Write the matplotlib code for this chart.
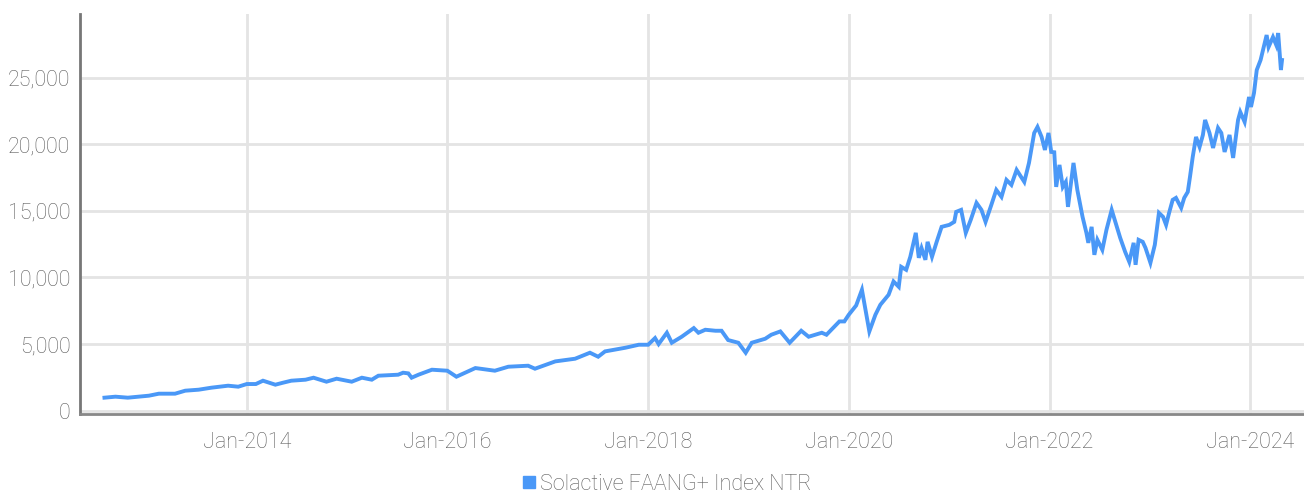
import matplotlib
matplotlib.use("Agg")
import matplotlib.pyplot as plt
import matplotlib.dates as mdates
from matplotlib.lines import Line2D
from matplotlib.ticker import FuncFormatter
import numpy as np

# Solactive FAANG+ Index NTR, index level over time
dates = [
    "2012-08-01", "2012-09-10", "2012-10-25", "2013-01-10", "2013-02-15",
    "2013-04-15", "2013-05-22", "2013-07-10", "2013-08-25", "2013-10-25",
    "2013-12-01", "2014-01-01", "2014-02-03", "2014-03-01", "2014-04-15",
    "2014-05-13", "2014-06-12", "2014-08-03", "2014-09-01", "2014-10-18",
    "2014-11-24", "2015-01-18", "2015-02-24", "2015-04-01", "2015-04-25",
    "2015-07-06", "2015-07-24", "2015-08-12", "2015-08-24", "2015-09-18",
    "2015-11-06", "2016-01-01", "2016-02-03", "2016-04-12", "2016-06-22",
    "2016-08-10", "2016-10-21", "2016-11-15", "2017-01-28", "2017-04-10",
    "2017-06-03", "2017-07-03", "2017-07-28", "2017-10-10", "2017-11-28",
    "2018-01-01", "2018-01-26", "2018-02-08", "2018-03-10", "2018-03-28",
    "2018-05-03", "2018-06-16", "2018-07-03", "2018-07-28", "2018-09-03",
    "2018-09-25", "2018-10-19", "2018-11-25", "2018-12-22", "2019-01-13",
    "2019-03-03", "2019-03-25", "2019-04-27", "2019-05-31", "2019-07-12",
    "2019-08-08", "2019-09-25", "2019-10-12", "2019-11-28", "2019-12-16",
    "2020-01-01", "2020-01-28", "2020-02-18", "2020-03-16", "2020-04-07",
    "2020-04-25", "2020-05-25", "2020-06-12", "2020-07-01", "2020-07-10",
    "2020-07-28", "2020-08-12", "2020-09-01", "2020-09-12", "2020-09-22",
    "2020-10-06", "2020-10-14", "2020-10-30", "2020-11-16", "2020-12-04",
    "2021-01-01", "2021-01-19", "2021-01-26", "2021-02-13", "2021-03-02",
    "2021-03-20", "2021-04-10", "2021-04-28", "2021-05-13", "2021-06-03",
    "2021-06-21", "2021-07-10", "2021-07-28", "2021-08-15", "2021-09-03",
    "2021-10-01", "2021-10-18", "2021-11-06", "2021-11-18", "2021-12-03",
    "2021-12-15", "2021-12-28", "2022-01-07", "2022-01-18", "2022-01-25",
    "2022-02-06", "2022-02-18", "2022-03-01", "2022-03-09", "2022-03-29",
    "2022-04-12", "2022-05-01", "2022-05-15", "2022-05-22", "2022-06-03",
    "2022-06-13", "2022-06-24", "2022-07-12", "2022-07-27", "2022-08-15",
    "2022-09-03", "2022-09-15", "2022-10-03", "2022-10-18", "2022-11-03",
    "2022-11-10", "2022-11-21", "2022-12-06", "2022-12-16", "2023-01-03",
    "2023-01-19", "2023-02-03", "2023-02-18", "2023-03-01", "2023-03-12",
    "2023-03-25", "2023-04-06", "2023-04-25", "2023-05-06", "2023-05-19",
    "2023-05-27", "2023-06-06", "2023-06-18", "2023-07-01", "2023-07-13",
    "2023-07-21", "2023-08-06", "2023-08-19", "2023-09-06", "2023-09-18",
    "2023-09-30", "2023-10-18", "2023-10-31", "2023-11-18", "2023-11-26",
    "2023-12-12", "2023-12-28", "2024-01-04", "2024-01-15", "2024-01-25",
    "2024-02-08", "2024-02-15", "2024-03-01", "2024-03-08", "2024-03-24",
    "2024-04-05", "2024-04-12", "2024-04-22", "2024-04-26",
]
values = [
    975, 1050, 975, 1125, 1275,
    1275, 1500, 1575, 1725, 1875,
    1800, 2000, 2000, 2250, 1950,
    2100, 2250, 2325, 2475, 2175,
    2400, 2175, 2475, 2325, 2625,
    2700, 2850, 2800, 2475, 2700,
    3075, 3000, 2550, 3200, 3000,
    3300, 3375, 3150, 3700, 3900,
    4350, 4050, 4450, 4725, 4950,
    4950, 5450, 5000, 5850, 5100,
    5550, 6200, 5850, 6075, 6000,
    6000, 5300, 5100, 4350, 5100,
    5400, 5700, 5950, 5100, 6000,
    5550, 5850, 5700, 6700, 6700,
    7200, 7900, 9075, 5950, 7200,
    7950, 8700, 9700, 9300, 10800,
    10575, 11550, 13350, 11475, 12200,
    11325, 12675, 11550, 12675, 13800,
    13950, 14175, 14925, 15075, 13350,
    14325, 15600, 15075, 14175, 15450,
    16575, 16050, 17325, 16950, 18075,
    17175, 18600, 20850, 21300, 20550,
    19575, 20850, 19425, 19400, 16800,
    18450, 16800, 17175, 15300, 18600,
    16575, 14550, 13350, 12600, 13800,
    11700, 12825, 12075, 13575, 15075,
    13800, 12975, 11925, 11175, 12600,
    10950, 12825, 12675, 12225, 11100,
    12450, 14850, 14550, 13950, 14850,
    15825, 15975, 15225, 15975, 16425,
    17550, 19050, 20550, 19800, 20700,
    21825, 20850, 19725, 21225, 20850,
    19425, 20700, 18975, 21825, 22425,
    21675, 23550, 22800, 23850, 25575,
    26325, 26925, 28200, 27300, 28050,
    27450, 28350, 25575, 26325,
]
series_name = "Solactive FAANG+ Index NTR"
y_ticks = [0, 5000, 10000, 15000, 20000, 25000]
x_ticks = ["2014-01-01", "2016-01-01", "2018-01-01", "2020-01-01", "2022-01-01", "2024-01-01"]

line_color = "#4a98f7"
text_color = "#5c5c5c"
plt.rcParams["font.family"] = ["Roboto", "DejaVu Sans"]
plt.rcParams["font.weight"] = "light"

fig = plt.figure(figsize=(13.04, 4.95), dpi=100)
ax = fig.add_axes([80 / 1304, 1 - 414 / 495, 1 - 80 / 1304, 400 / 495])

x = np.array(dates, dtype="datetime64[D]")
ax.plot(x, values, color=line_color, linewidth=2.8, solid_joinstyle="miter")

ax.set_xlim(np.datetime64("2012-05-04"), np.datetime64("2024-07-15"))
ax.set_ylim(-250, 29780)
ax.set_yticks(y_ticks)
ax.yaxis.set_major_formatter(FuncFormatter(lambda v, p: "{:,.0f}".format(v)))
ax.set_xticks(np.array(x_ticks, dtype="datetime64[D]"))
ax.xaxis.set_major_formatter(mdates.DateFormatter("%b-%Y"))

ax.grid(True, color="#e4e4e4", linewidth=2)
ax.set_axisbelow(True)
ax.tick_params(length=0, labelsize=15.5, colors=text_color)
ax.tick_params(axis="y", pad=7)
ax.tick_params(axis="x", pad=13)

for side in ("top", "right"):
    ax.spines[side].set_visible(False)
ax.spines["left"].set_color("#777777")
ax.spines["left"].set_linewidth(2)
ax.spines["bottom"].set_color("#888888")
ax.spines["bottom"].set_linewidth(2)

handle = Line2D([], [], linestyle="none", marker="s", markersize=8,
                color=line_color)
fig.legend([handle], [series_name], loc="center",
           bbox_to_anchor=(665 / 1304, 1 - 484 / 495), frameon=False,
           fontsize=15.5, labelcolor=text_color, handletextpad=0.0,
           handlelength=1.0, borderpad=0)

fig.savefig("out.png", dpi=100)
